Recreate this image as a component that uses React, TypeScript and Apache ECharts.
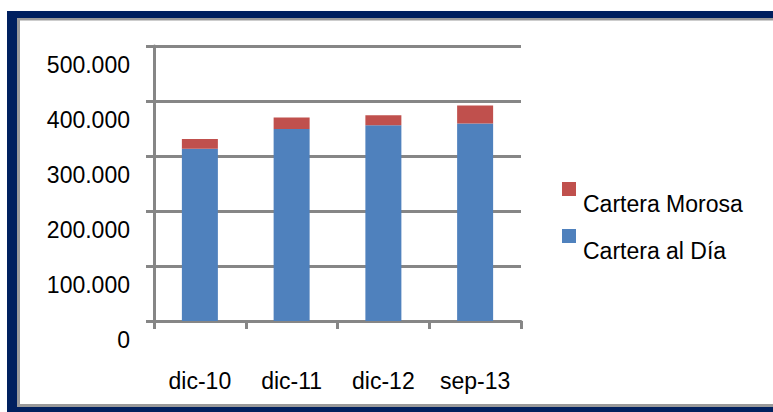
import React, { useEffect, useRef } from "react";
import * as echarts from "echarts";

const categories = ["dic-10", "dic-11", "dic-12", "sep-13"];
const carteraAlDia = [313000, 349000, 356000, 359000];
const carteraMorosa = [18000, 21000, 18000, 33000];
const seriesNames = ["Cartera al Día", "Cartera Morosa"];

const FONT = "'Liberation Sans', Arial, sans-serif";
const AXIS_GRAY = "#868686";

function fmt(v: number): string {
  return String(Math.round(v)).replace(/\B(?=(\d{3})+(?!\d))/g, ".");
}

export default function App() {
  const ref = useRef<HTMLDivElement>(null);
  useEffect(() => {
    if (!ref.current) return;
    const chart = echarts.init(ref.current, null, { renderer: "svg" });
    chart.setOption({
      animation: false,
      backgroundColor: "#ffffff",
      graphic: [
        { type: "rect", z: -10, silent: true, shape: { x: 7, y: 11, width: 800, height: 401 }, style: { fill: "#00205f" } },
        { type: "rect", z: -10, silent: true, shape: { x: 17, y: 18, width: 800, height: 389 }, style: { fill: "#9a9a9a" } },
        { type: "rect", z: -10, silent: true, shape: { x: 20, y: 20.5, width: 800, height: 383.5 }, style: { fill: "#ffffff" } },
      ],
      grid: { left: 154, top: 46, width: 367, height: 275, containLabel: false },
      legend: {
        orient: "vertical",
        left: 562,
        top: 159,
        padding: 0,
        itemWidth: 14,
        itemHeight: 14,
        itemGap: -13,
        icon: "rect",
        data: [seriesNames[1], seriesNames[0]],
        formatter: (name: string) => "\n" + name,
        textStyle: {
          fontFamily: FONT,
          fontSize: 23,
          lineHeight: 30,
          color: "#000",
          padding: [0, 0, 0, 2],
        },
      },
      xAxis: {
        type: "category",
        data: categories,
        boundaryGap: true,
        axisLine: { show: true, lineStyle: { color: AXIS_GRAY, width: 3 } },
        axisTick: { show: true, length: 8, alignWithLabel: false, lineStyle: { color: AXIS_GRAY, width: 3 } },
        axisLabel: { margin: 48, fontFamily: FONT, fontSize: 23, color: "#000" },
        splitLine: { show: false },
      },
      yAxis: {
        type: "value",
        min: 0,
        max: 500000,
        interval: 100000,
        axisLine: { show: true, lineStyle: { color: AXIS_GRAY, width: 3 } },
        axisTick: { show: true, length: 8, lineStyle: { color: AXIS_GRAY, width: 3 } },
        splitLine: { show: true, lineStyle: { color: AXIS_GRAY, width: 3 } },
        axisLabel: {
          margin: 24,
          showMinLabel: true,
          showMaxLabel: true,
          hideOverlap: false,
          verticalAlign: "top",
          fontFamily: FONT,
          fontSize: 23,
          lineHeight: 38,
          color: "#000",
          formatter: (v: number) => fmt(v),
        },
      },
      series: [
        {
          name: seriesNames[0],
          type: "bar",
          stack: "total",
          data: carteraAlDia,
          barWidth: 36,
          itemStyle: { color: "#4f81bd" },
        },
        {
          name: seriesNames[1],
          type: "bar",
          stack: "total",
          data: carteraMorosa,
          barWidth: 36,
          itemStyle: { color: "#c0504d" },
        },
      ],
    });
    return () => chart.dispose();
  }, []);
  return (
    <div
      ref={ref}
      style={{ position: "fixed", left: 0, top: 0, width: 773, height: 412 }}
    />
  );
}
